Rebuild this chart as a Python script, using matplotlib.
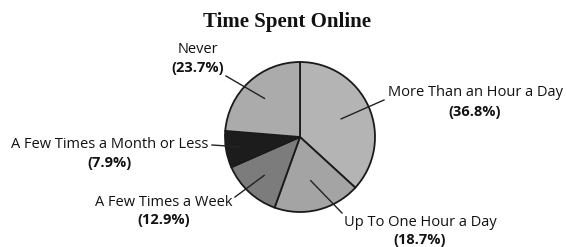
import numpy as np
import matplotlib
matplotlib.use("Agg")
import matplotlib.pyplot as plt

title = "Time Spent Online"
categories = ["More Than an Hour a Day", "Up To One Hour a Day", "A Few Times a Week",
              "A Few Times a Month or Less", "Never"]
values = [36.8, 18.7, 12.9, 7.9, 23.7]
colors = ["#b4b4b4", "#a4a4a4", "#7c7c7c", "#1c1c1c", "#ababab"]
pct_labels = ["(36.8%)", "(18.7%)", "(12.9%)", "(7.9%)", "(23.7%)"]

W, H = 567, 247
fig = plt.figure(figsize=(W / 100, H / 100), dpi=100)
ax = fig.add_axes([0, 0, 1, 1])

cx, cy, R = 300, 247 - 137, 75
wedges, _ = ax.pie(values, colors=colors, startangle=90, counterclock=False,
                   center=(cx, cy), radius=R, frame=True,
                   wedgeprops=dict(edgecolor="#1a1a1a", linewidth=1.3))
ax.set_xlim(0, W)
ax.set_ylim(0, H)
ax.set_aspect("equal")
ax.axis("off")

# label centers (x, y of first line, y of second line) in pixel coords from top
label_pos = [(475, 93, 112), (420, 222, 240), (164, 202, 220), (110, 145, 163), (198, 50, 68)]
line_end = [(384, 100), (342, 213), (235, 197), (212, 145), (226, 76)]
inner_r = [0.6, 0.6, 0.7, 0.8, 0.7]

cum = np.cumsum([0] + values[:-1])
for i, (cat, v) in enumerate(zip(categories, values)):
    mid = np.deg2rad(90 - (cum[i] + v / 2) * 3.6)
    px = cx + inner_r[i] * R * np.cos(mid)
    py = cy + inner_r[i] * R * np.sin(mid)
    ex, ey = line_end[i]
    ax.plot([px, ex], [py, H - ey], color="#222222", lw=1.0)
    lx, ly1, ly2 = label_pos[i]
    ax.text(lx, H - ly1, cat, ha="center", va="center", fontsize=10.5,
            family="Open Sans", color="#111111")
    ax.text(lx, H - ly2, pct_labels[i], ha="center", va="center", fontsize=10.5,
            family="Open Sans", fontweight="bold", color="#111111")

ax.text(287, H - 22, title, ha="center", va="center", fontsize=15,
        family="Liberation Serif", fontweight="bold", color="#111111")

fig.savefig("out.png", dpi=100, facecolor="white")
